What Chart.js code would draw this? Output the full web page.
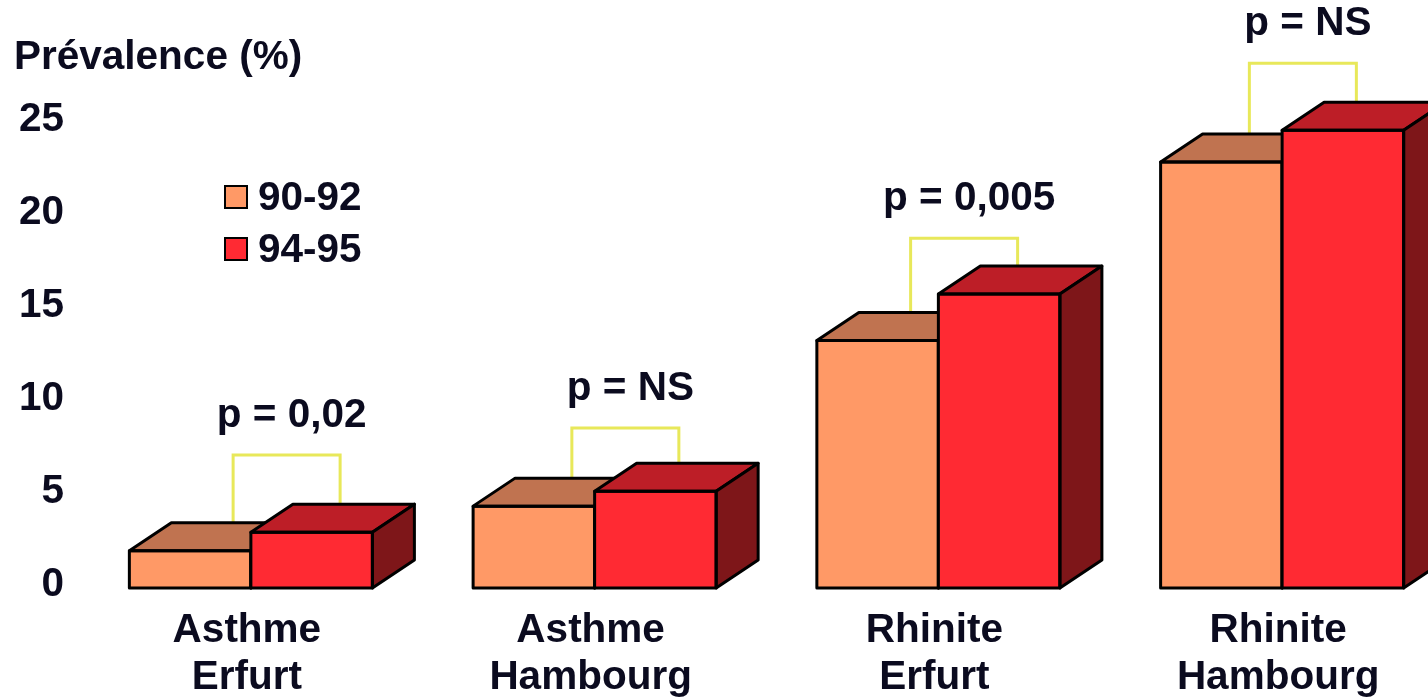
<!DOCTYPE html>
<html>
<head>
<meta charset="utf-8">
<script src="https://cdn.jsdelivr.net/npm/chart.js@4.4.1/dist/chart.umd.min.js"></script>
<style>
  html, body { margin: 0; padding: 0; background: #fff; overflow: hidden; }
  #wrap { width: 1454px; height: 699px; }
</style>
</head>
<body>
<div id="wrap"><canvas id="prevChart"></canvas></div>
<script>
// data
const categories = [['Asthme', 'Erfurt'], ['Asthme', 'Hambourg'], ['Rhinite', 'Erfurt'], ['Rhinite', 'Hambourg']];
const seriesNames = ['90-92', '94-95'];
const prev9092 = [2.0, 4.4, 13.3, 22.9];
const prev9495 = [3.0, 5.2, 15.8, 24.6];
const yTicks = [0, 5, 10, 15, 20, 25];
const pLabels = ['p = 0,02', 'p = NS', 'p = 0,005', 'p = NS'];
const bracketTops = [7.15, 8.6, 18.8, 28.2];   // in % units

const FONT = '"Liberation Sans", Arial, Helvetica, sans-serif';
const FSIZE = 40.5;
const TXT = '#0b0b1f';
const depthX = 42, depthY = -28;
const faceColors = [
    { front: '#FF9966', top: '#C07350', side: '#A0502F' },
    { front: '#FF2A33', top: '#BD1E27', side: '#7E1619' }
];

// 3D boxes: per group, older series first so the newer one sits in front of it
const bar3d = {
    id: 'bar3d',
    afterDatasetsDraw(chart) {
        const ctx = chart.ctx;
        const metas = [chart.getDatasetMeta(0).data, chart.getDatasetMeta(1).data];
        ctx.save();
        ctx.lineWidth = 3;
        ctx.lineJoin = 'round';
        ctx.strokeStyle = '#000';
        metas[0].forEach((_, i) => {
            metas.forEach((bars, d) => {
                const bar = bars[i];
                const cols = faceColors[d];
                const half = bar.width / 2;
                const l = bar.x - half, r = bar.x + half, t = bar.y, b = bar.base;

                ctx.fillStyle = cols.front;
                ctx.fillRect(l, t, r - l, b - t);

                ctx.beginPath();
                ctx.moveTo(l, t);
                ctx.lineTo(l + depthX, t + depthY);
                ctx.lineTo(r + depthX, t + depthY);
                ctx.lineTo(r, t);
                ctx.closePath();
                ctx.fillStyle = cols.top;
                ctx.fill();
                ctx.stroke();

                ctx.beginPath();
                ctx.moveTo(r, t);
                ctx.lineTo(r + depthX, t + depthY);
                ctx.lineTo(r + depthX, b + depthY);
                ctx.lineTo(r, b);
                ctx.closePath();
                ctx.fillStyle = cols.side;
                ctx.fill();
                ctx.stroke();

                ctx.strokeRect(l, t, r - l, b - t);
            });
        });
        ctx.restore();
    }
};

// significance brackets and p labels
const brackets = {
    id: 'brackets',
    beforeDatasetsDraw(chart) {
        const ctx = chart.ctx;
        const yScale = chart.scales.y;
        const m0 = chart.getDatasetMeta(0).data;
        const m1 = chart.getDatasetMeta(1).data;
        ctx.save();
        m0.forEach((b0, i) => {
            const b1 = m1[i];
            const lx = b0.x + 43 - 5 * i;   // slight perspective drift in the original
            const rx = lx + 107;
            const ty = yScale.getPixelForValue(bracketTops[i]);
            ctx.strokeStyle = '#E8E85A';
            ctx.lineWidth = 3;
            ctx.beginPath();
            ctx.moveTo(lx, b0.y + depthY);
            ctx.lineTo(lx, ty);
            ctx.lineTo(rx, ty);
            ctx.lineTo(rx, b1.y + depthY);
            ctx.stroke();

            ctx.fillStyle = TXT;
            ctx.font = 'bold ' + FSIZE + 'px ' + FONT;
            ctx.textAlign = 'center';
            ctx.textBaseline = 'middle';
            ctx.fillText(pLabels[i], (lx + rx) / 2 + 5, ty - 39);
        });
        ctx.restore();
    }
};

// axis title + legend
const extras = {
    id: 'extras',
    afterDraw(chart) {
        const ctx = chart.ctx;
        ctx.save();
        ctx.fillStyle = TXT;
        ctx.font = 'bold ' + FSIZE + 'px ' + FONT;
        ctx.textAlign = 'left';
        ctx.textBaseline = 'alphabetic';
        ctx.fillText('Prévalence (%)', 14, 69);

        chart.data.datasets.forEach((ds, i) => {
            const y = 186 + i * 52;
            ctx.fillStyle = ds.backgroundColor;
            ctx.fillRect(225, y, 22, 22);
            ctx.lineWidth = 2;
            ctx.strokeStyle = '#000';
            ctx.strokeRect(225, y, 22, 22);
            ctx.fillStyle = TXT;
            ctx.textBaseline = 'middle';
            ctx.fillText(ds.label, 258, y + 13);
        });
        ctx.restore();
    }
};

const ctx = document.getElementById('prevChart').getContext('2d');
const prevChart = new Chart(ctx, {
    type: 'bar',
    data: {
        labels: categories,
        datasets: [
            { label: seriesNames[0], data: prev9092, backgroundColor: faceColors[0].front, borderWidth: 0 },
            { label: seriesNames[1], data: prev9495, backgroundColor: faceColors[1].front, borderWidth: 0 }
        ]
    },
    options: {
        responsive: true,
        maintainAspectRatio: false,
        animation: false,
        layout: { padding: 0 },
        datasets: { bar: { barPercentage: 1.0, categoryPercentage: 0.707 } },
        plugins: {
            legend: { display: false },
            tooltip: { enabled: false }
        },
        scales: {
            x: {
                grid: { display: false, drawTicks: false },
                border: { display: false },
                ticks: {
                    color: TXT,
                    padding: 20,
                    labelOffset: -4,
                    font: { family: FONT, size: FSIZE, weight: 'bold', lineHeight: 1.15 }
                },
                afterFit: (scale) => { scale.height = 111; scale.paddingLeft = 0; scale.paddingRight = 0; }
            },
            y: {
                min: 0,
                max: 31.6,
                grid: { display: false, drawTicks: false },
                border: { display: false },
                afterBuildTicks: (scale) => { scale.ticks = yTicks.map(v => ({ value: v })); },
                ticks: {
                    color: TXT,
                    padding: 15,
                    labelOffset: -3,
                    font: { family: FONT, size: FSIZE, weight: 'bold' }
                },
                afterFit: (scale) => { scale.width = 79; scale.paddingTop = 0; scale.paddingBottom = 0; }
            }
        }
    },
    plugins: [bar3d, brackets, extras]
});
</script>
</body>
</html>
